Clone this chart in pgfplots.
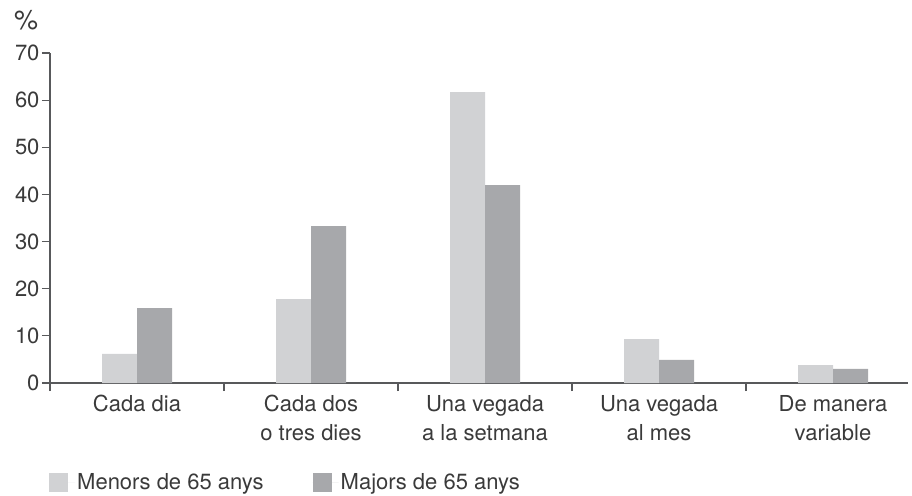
\documentclass[border=0pt]{standalone}
\usepackage{pgfplots}
\pgfplotsset{compat=1.18}
\usepackage{fontspec}
\setmainfont{TeX Gyre Heros}
\definecolor{txt}{HTML}{3A3A3A}
\definecolor{ax}{HTML}{58595B}
\definecolor{lightbar}{HTML}{D1D2D4}
\definecolor{darkbar}{HTML}{A7A8AB}
\newcommand{\lbl}{\fontsize{22}{29}\selectfont}

\begin{document}
\begin{tikzpicture}[font=\lbl, text=txt]
\begin{axis}[
  scale only axis,
  width=858pt, height=330pt,
  ybar=0pt, bar width=35pt,
  xmin=-0.5, xmax=4.431,
  ymin=0, ymax=70,
  axis lines*=left,
  axis line style={draw=ax, line width=1.2pt},
  ytick={0,10,...,70},
  xtick={0,...,4},
  xticklabels={Cada dia, {Cada dos\\o tres dies}, {Una vegada\\a la setmana}, {Una vegada\\al mes}, {De manera\\variable}},
  minor xtick={-0.5,0.5,1.5,2.5,3.5},
  tick align=outside,
  major tick length=8pt, minor tick length=8pt,
  tick style={draw=ax, line width=1.2pt},
  major x tick style={draw=none},
  /pgf/number format/assume math mode=true,
  ticklabel style={font=\lbl, text=txt},
  xticklabel style={align=center, yshift=-1pt},
  yticklabel style={xshift=1pt},
  legend columns=2,
  legend style={at={(rel axis cs:0,0)}, anchor=west, xshift=-4pt, yshift=-99pt,
    draw=none, fill=none, font=\lbl, text=txt,
    /tikz/every even column/.append style={column sep=47pt}},
  legend image code/.code={\fill[#1] (0pt,-9.5pt) rectangle (19pt,9.5pt); \path (0pt,0pt) -- (26pt,0pt);},
  clip=false,
]
  \addplot[fill=lightbar, draw=none] coordinates {(0,6.2) (1,17.8) (2,61.7) (3,9.3) (4,3.8)};
  \addlegendentry{Menors de 65 anys}
  \addplot[fill=darkbar, draw=none] coordinates {(0,15.9) (1,33.3) (2,42.0) (3,4.9) (4,3.0)};
  \addlegendentry{Majors de 65 anys}
  \coordinate (O) at (rel axis cs:0,0);
\end{axis}
\node[anchor=base west, inner sep=0pt, text=txt] at ([shift={(-36pt,353pt)}]O) {\fontsize{27}{30}\selectfont\%};
\pgfresetboundingbox
\path ([shift={(-50pt,-112pt)}]O) rectangle ++(912pt,495pt);
\end{tikzpicture}
\end{document}
